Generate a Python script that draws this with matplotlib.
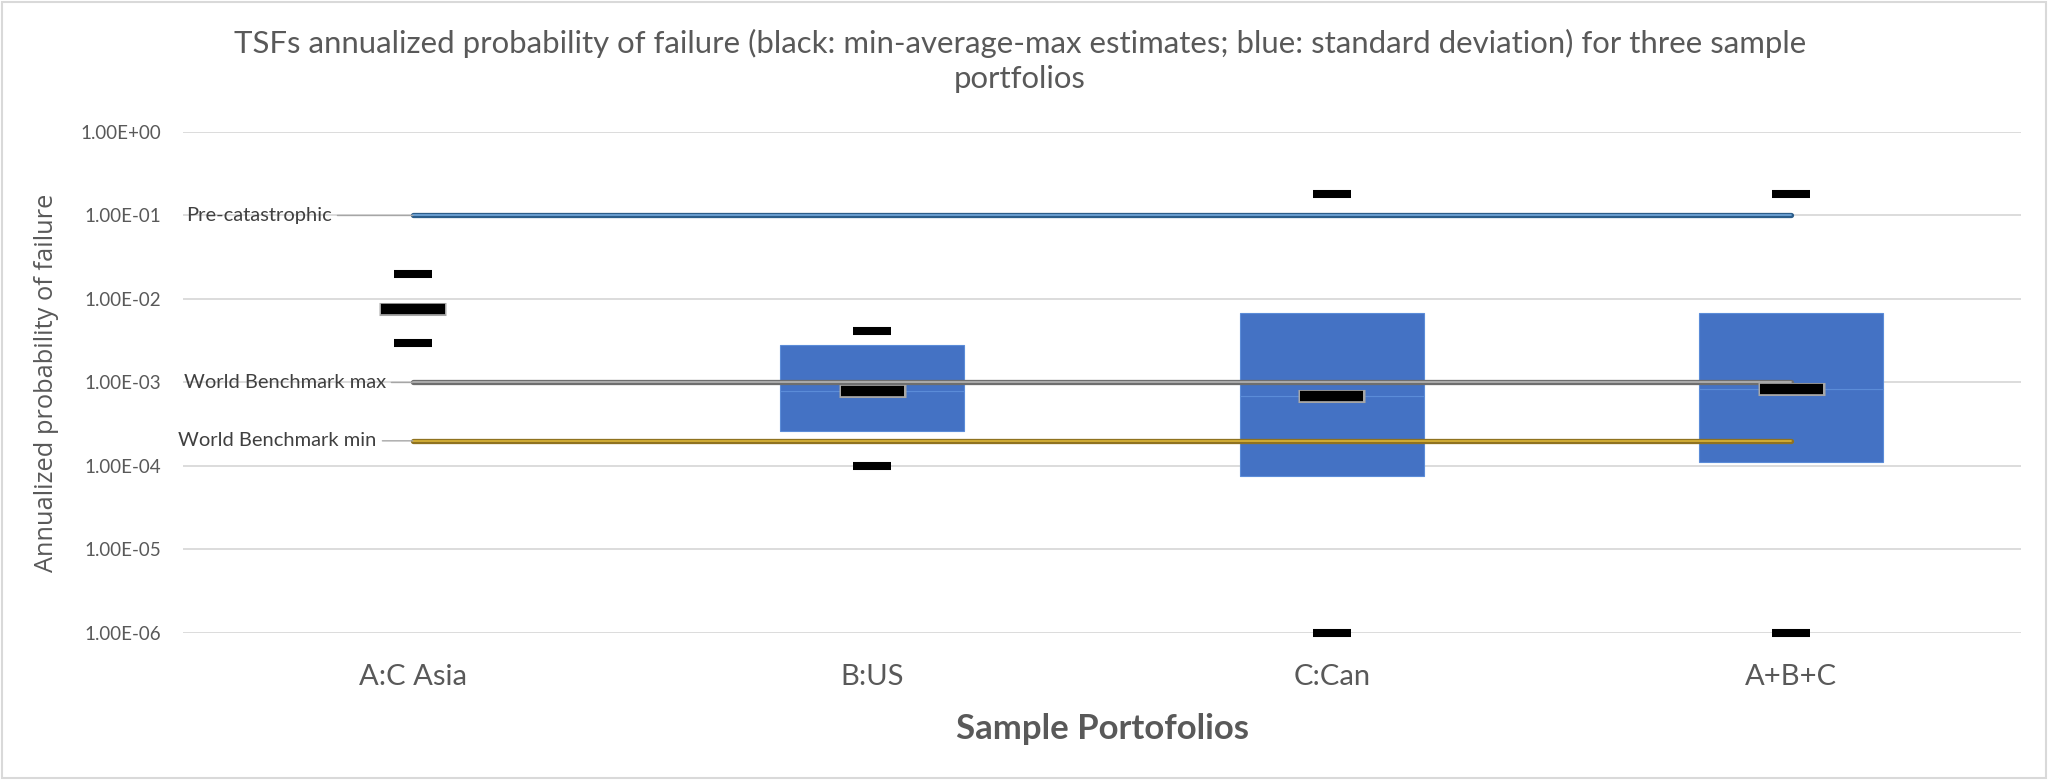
import numpy as np
import matplotlib
matplotlib.use("Agg")
import matplotlib.pyplot as plt
from matplotlib.patches import Rectangle
from matplotlib.ticker import FixedLocator, NullLocator

plt.rcParams["font.family"] = ["Lato", "DejaVu Sans"]

# Portfolios and their estimates (annualized probability of failure)
categories = ["A:C Asia", "B:US", "C:Can", "A+B+C"]
min_est = [3.0e-3, 1.0e-4, 1.0e-6, 1.0e-6]
avg_est = [7.5e-3, 7.8e-4, 6.8e-4, 8.3e-4]
max_est = [2.0e-2, 4.1e-3, 1.8e-1, 1.8e-1]
# standard deviation band (low / high edge), none for A
std_low = [np.nan, 2.6e-4, 7.5e-5, 1.13e-4]
std_high = [np.nan, 2.8e-3, 6.7e-3, 6.8e-3]

# reference levels
pre_catastrophic = [1e-1, 1e-1, 1e-1, 1e-1]
wb_max = [1e-3, 1e-3, 1e-3, 1e-3]
wb_min = [2e-4, 2e-4, 2e-4, 2e-4]

y_ticks = [1e0, 1e-1, 1e-2, 1e-3, 1e-4, 1e-5, 1e-6]

TXT = "#595959"

fig = plt.figure(figsize=(20.48, 7.8), dpi=100)
ax = fig.add_axes([0.0894, 0.1885, 0.8974, 0.6423])

x = np.arange(len(categories))
lo = np.array(std_low)
hi = np.array(std_high)
avg = np.array(avg_est)

# blue standard deviation band, split at the average
ax.bar(x, avg - lo, bottom=lo, width=0.4, color="#4472C4",
       edgecolor="#5B8CD8", linewidth=0.8, zorder=2)
ax.bar(x, hi - avg, bottom=avg, width=0.4, color="#4472C4",
       edgecolor="#5B8CD8", linewidth=0.8, zorder=2)

# reference lines (double-line look)
levels = [
    (pre_catastrophic, "Pre-catastrophic", "#2C5D8A", "#6FA3D6", -81),
    (wb_max, "World Benchmark max", "#6E6E6E", "#B0B0B0", -27),
    (wb_min, "World Benchmark min", "#8F7220", "#D4AF37", -36),
]
for vals, label, dark, light, off in levels:
    ax.plot(x, vals, color=dark, lw=3.8, solid_capstyle="round", zorder=3)
    ax.plot(x, vals, color=light, lw=1.3, solid_capstyle="round", zorder=3)
    ax.annotate(label, xy=(x[0], vals[0]), xytext=(off, 0),
                textcoords="offset pixels", ha="right", va="center",
                fontsize=14.5, color="#404040",
                arrowprops=dict(arrowstyle="-", color="#A6A6A6", lw=1,
                                shrinkA=2, shrinkB=0))

# black min / max / average marks
ax.hlines(min_est, x - 0.041, x + 0.041, colors="black", lw=5.8,
          capstyle="butt", zorder=4, clip_on=False)
ax.hlines(max_est, x - 0.041, x + 0.041, colors="black", lw=5.8,
          capstyle="butt", zorder=4, clip_on=False)
ax.hlines(avg_est, x - 0.073, x + 0.073, colors="#A6A6A6", lw=9.4,
          capstyle="butt", zorder=4)
ax.hlines(avg_est, x - 0.069, x + 0.069, colors="black", lw=7.4,
          capstyle="butt", zorder=5)

ax.set_yscale("log")
ax.set_ylim(1e-6, 1e0)
ax.set_xlim(-0.5, len(categories) - 0.5)
ax.yaxis.set_major_locator(FixedLocator(y_ticks))
ax.yaxis.set_minor_locator(NullLocator())
ax.set_yticklabels([f"{v:.2E}" for v in y_ticks])
ax.set_xticks(x)
ax.set_xticklabels(categories)

ax.grid(axis="y", color="#D9D9D9", lw=1.3, zorder=0)
ax.set_axisbelow(True)
for s in ax.spines.values():
    s.set_visible(False)
ax.tick_params(axis="y", length=0, pad=16, labelsize=13.5, labelcolor=TXT)
ax.tick_params(axis="x", length=0, pad=22, labelsize=21, labelcolor=TXT)

ax.set_xlabel("Sample Portofolios", fontsize=25, fontweight="bold", color=TXT,
              va="baseline")
ax.xaxis.set_label_coords(0.5, -0.2116)
ax.set_ylabel("Annualized probability of failure", fontsize=18.3, color=TXT,
              family=["Open Sans", "DejaVu Sans"], va="center")
ax.yaxis.set_label_coords(-0.0745, 0.5)

fig.text(0.498, 1 - 29 / 780,
         "TSFs annualized probability of failure (black: min-average-max "
         "estimates; blue: standard deviation) for three sample\nportfolios",
         ha="center", va="top", multialignment="center", fontsize=22.4,
         color=TXT, linespacing=1.32)

# light frame around the chart area
fig.patches.append(Rectangle((0.001, 0.002), 0.998, 0.996, transform=fig.transFigure,
                             fill=False, edgecolor="#D9D9D9", lw=1.5))

fig.savefig("out.png", dpi=100)
